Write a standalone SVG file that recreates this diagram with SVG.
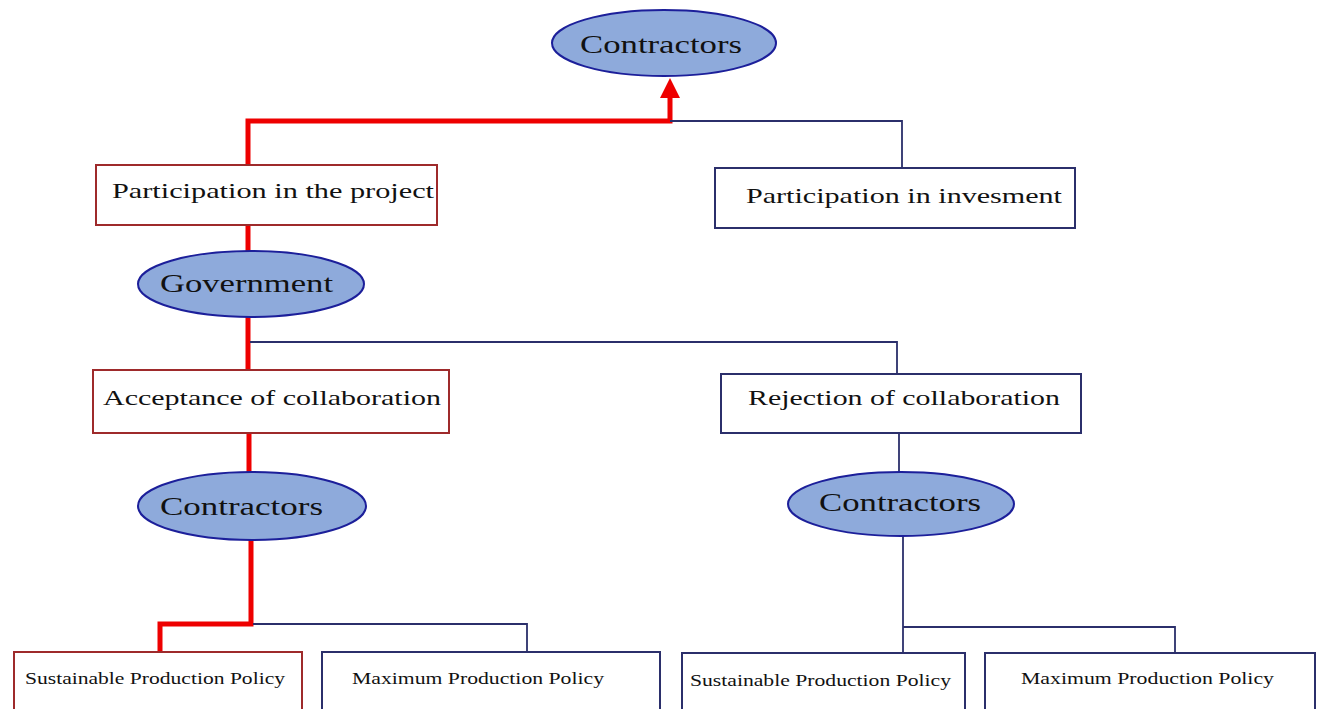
<svg xmlns="http://www.w3.org/2000/svg" width="1323" height="709" viewBox="0 0 1323 709">
<style>
.ell{fill:#8eaadb;stroke:#1c1f9a;stroke-width:2}
.rbox{fill:#fff;stroke:#9e2a2b;stroke-width:2}
.nbox{fill:#fff;stroke:#2b2f6b;stroke-width:2}
.red{fill:none;stroke:#ee0000;stroke-width:5}
.thin{fill:none;stroke:#2b2f6b;stroke-width:1.8}
text{font-family:"Liberation Serif","Times New Roman",serif;fill:#111}
.big{font-size:26px}
.mid{font-size:22px}
.sm{font-size:16px}
</style>
<defs>
<marker id="arr" markerWidth="4" markerHeight="4" refX="2" refY="2" orient="auto" markerUnits="strokeWidth">
<path d="M0,0 L4,2 L0,4 Z" fill="#ee0000"/>
</marker>
</defs>
<rect width="1323" height="709" fill="#fff"/>
<g id="connectors">
<path class="red" d="M248,165 V121 H670 V88" marker-end="url(#arr)"/>
<path class="thin" d="M670,121 H902 V168"/>
<path class="red" d="M248,225 V252"/>
<path class="red" d="M248,317 V370"/>
<path class="thin" d="M250,342 H897 V374"/>
<path class="red" d="M249,433 V472"/>
<path class="thin" d="M899,433 V472"/>
<path class="red" d="M251,540 V624 H160 V652"/>
<path class="thin" d="M253,624 H527 V652"/>
<path class="thin" d="M903,536 V652"/>
<path class="thin" d="M903,627 H1175 V652"/>
</g>
<g id="n-contractors-top">
<ellipse class="ell" cx="664" cy="43" rx="112" ry="33"/>
<text class="big" x="580" y="53" textLength="162" lengthAdjust="spacingAndGlyphs">Contractors</text>
</g>
<g id="n-participation-project">
<rect class="rbox" x="96" y="165" width="341" height="60"/>
<text class="mid" x="112" y="198" textLength="322" lengthAdjust="spacingAndGlyphs">Participation in the project</text>
</g>
<g id="n-participation-investment">
<rect class="nbox" x="715" y="168" width="360" height="60"/>
<text class="mid" x="746" y="203" textLength="316" lengthAdjust="spacingAndGlyphs">Participation in invesment</text>
</g>
<g id="n-government">
<ellipse class="ell" cx="251" cy="284" rx="113" ry="33"/>
<text class="big" x="160" y="292" textLength="173" lengthAdjust="spacingAndGlyphs">Government</text>
</g>
<g id="n-acceptance">
<rect class="rbox" x="93" y="370" width="356" height="63"/>
<text class="mid" x="103" y="405" textLength="338" lengthAdjust="spacingAndGlyphs">Acceptance of collaboration</text>
</g>
<g id="n-rejection">
<rect class="nbox" x="721" y="374" width="360" height="59"/>
<text class="mid" x="748" y="405" textLength="312" lengthAdjust="spacingAndGlyphs">Rejection of collaboration</text>
</g>
<g id="n-contractors-left">
<ellipse class="ell" cx="252" cy="506" rx="114" ry="34"/>
<text class="big" x="160" y="515" textLength="163" lengthAdjust="spacingAndGlyphs">Contractors</text>
</g>
<g id="n-contractors-right">
<ellipse class="ell" cx="901" cy="504" rx="113" ry="32"/>
<text class="big" x="819" y="511" textLength="162" lengthAdjust="spacingAndGlyphs">Contractors</text>
</g>
<g id="n-sustainable-left">
<rect class="rbox" x="14" y="652" width="288" height="70"/>
<text class="sm" x="25" y="684" textLength="260" lengthAdjust="spacingAndGlyphs">Sustainable Production Policy</text>
</g>
<g id="n-maximum-left">
<rect class="nbox" x="322" y="652" width="338" height="70"/>
<text class="sm" x="352" y="684" textLength="252" lengthAdjust="spacingAndGlyphs">Maximum Production Policy</text>
</g>
<g id="n-sustainable-right">
<rect class="nbox" x="682" y="653" width="283" height="70"/>
<text class="sm" x="690" y="686" textLength="261" lengthAdjust="spacingAndGlyphs">Sustainable Production Policy</text>
</g>
<g id="n-maximum-right">
<rect class="nbox" x="985" y="653" width="330" height="70"/>
<text class="sm" x="1021" y="684" textLength="253" lengthAdjust="spacingAndGlyphs">Maximum Production Policy</text>
</g>
</svg>
